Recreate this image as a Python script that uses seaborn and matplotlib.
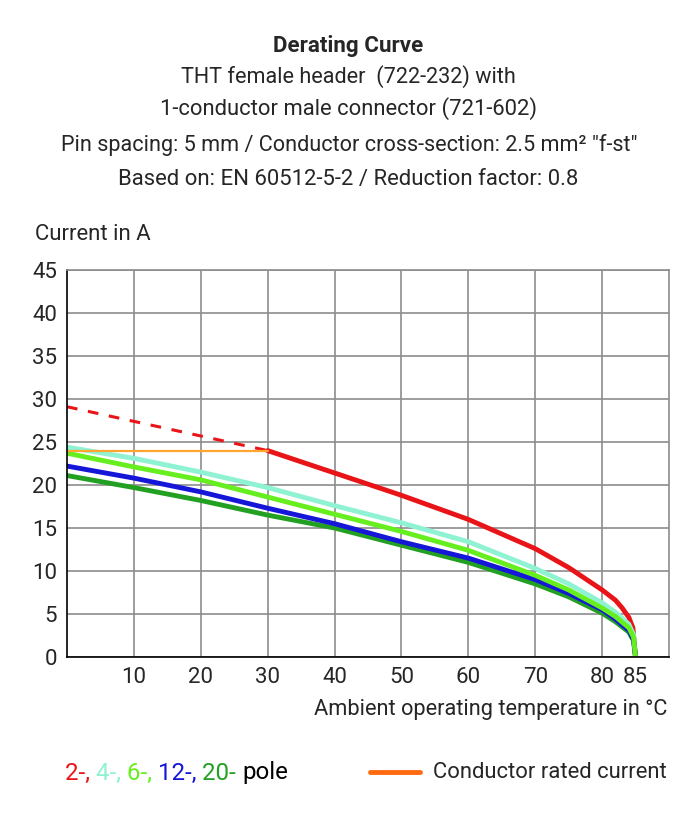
import matplotlib
matplotlib.use("Agg")
import matplotlib.pyplot as plt
from matplotlib.ticker import MultipleLocator
import seaborn as sns
import pandas as pd

# ambient temperature (°C) and current (A)
temps = [0, 10, 20, 30, 40, 50, 60, 70, 75, 80, 82, 84, 84.7, 85]
pole4 = [24.4, 23.1, 21.5, 19.7, 17.6, 15.6, 13.4, 10.3, 8.5, 6.3, 5.2, 3.8, 2.6, 0]
pole6 = [23.7, 22.1, 20.6, 18.6, 16.6, 14.6, 12.4, 9.5, 7.8, 5.7, 4.7, 3.4, 2.3, 0]
pole12 = [22.2, 20.8, 19.2, 17.3, 15.5, 13.4, 11.5, 9.0, 7.4, 5.5, 4.4, 3.1, 2.0, 0]
pole20 = [21.1, 19.7, 18.2, 16.5, 15.0, 13.0, 11.0, 8.5, 7.0, 5.1, 4.1, 2.9, 1.9, 0]

pole2_t = [30, 40, 50, 60, 70, 75, 80, 82, 83, 84, 84.6, 85]
pole2 = [24.0, 21.4, 18.8, 16.0, 12.6, 10.4, 7.8, 6.6, 5.7, 4.6, 3.4, 0]
pole2_dash_t = [0, 30]
pole2_dash = [29.1, 24.0]

rated_t = [0, 30]
rated = [24.0, 24.0]

colors = {"2": "#e81418", "4": "#8ff2d2", "6": "#66ee1e", "12": "#1616d8", "20": "#22a022"}

sns.set_style("white")
plt.rcParams["font.family"] = ["Roboto", "DejaVu Sans"]

W, H = 697, 817
fig = plt.figure(figsize=(W / 100, H / 100), dpi=100)
ax = fig.add_axes([67 / W, 1 - 657 / H, (669 - 67) / W, (657 - 270) / H])

df = pd.DataFrame({
    "temp": temps * 4,
    "current": pole4 + pole20 + pole12 + pole6,
    "pole": ["4"] * len(temps) + ["20"] * len(temps) + ["12"] * len(temps) + ["6"] * len(temps),
})

sns.lineplot(x=pole2_dash_t, y=pole2_dash, ax=ax, color=colors["2"], lw=2.2,
             linestyle=(0, (3.5, 3.5)))
sns.lineplot(x=pole2_t, y=pole2, ax=ax, color=colors["2"], lw=3.5)
sns.lineplot(data=df, x="temp", y="current", hue="pole", palette=colors, ax=ax,
             lw=3.5, legend=False, sort=False)
sns.lineplot(x=rated_t, y=rated, ax=ax, color="#ffa530", lw=1.6)

ax.set_xlim(0, 90)
ax.set_ylim(0, 45)
ax.set_xticks([10, 20, 30, 40, 50, 60, 70, 80, 85])
ax.set_yticks(range(0, 50, 5))
ax.xaxis.set_minor_locator(MultipleLocator(2))
ax.yaxis.set_minor_locator(MultipleLocator(1))
ax.tick_params(axis="both", which="major", labelsize=16, length=4, width=1, color="black", pad=3)
ax.tick_params(axis="both", which="minor", length=2.5, width=1, color="black")
ax.grid(True, which="major", color="#8c8c8c", lw=1.2)
ax.get_xgridlines()[-1].set_visible(False)
ax.set_axisbelow(True)
for s in ["top", "right"]:
    ax.spines[s].set_color("#8c8c8c")
    ax.spines[s].set_linewidth(1.2)
for s in ["left", "bottom"]:
    ax.spines[s].set_color("black")
    ax.spines[s].set_linewidth(1.2)
ax.set_xlabel("")
ax.set_ylabel("")

fig.canvas.draw()
renderer = fig.canvas.get_renderer()


def fit_text(x, y, s, width, ha="left", **kw):
    # place text and scale its size so it spans the given pixel width
    t = fig.text(x / W, 1 - y / H, s, ha=ha, va="center", fontsize=16, **kw)
    w = t.get_window_extent(renderer).width
    t.set_fontsize(16 * width / w)
    return t


fit_text(348, 46, "Derating Curve", 150, ha="center", fontweight="bold")
fit_text(348, 77, "THT female header  (722-232) with", 336, ha="center")
fit_text(348, 109, "1-conductor male connector (721-602)", 378, ha="center")
fit_text(349, 145, "Pin spacing: 5 mm / Conductor cross-section: 2.5 mm² \"f-st\"", 578, ha="center")
fit_text(348, 180, "Based on: EN 60512-5-2 / Reduction factor: 0.8", 460, ha="center")

fit_text(35, 235, "Current in A", 116)
fit_text(667, 710, "Ambient operating temperature in °C", 354, ha="right")
fit_text(433, 773, "Conductor rated current", 234)

# multi-coloured legend text, sized so the whole run spans the reference width
parts = [("2-, ", colors["2"]), ("4-, ", colors["4"]), ("6-, ", colors["6"]),
         ("12-, ", colors["12"]), ("20- ", colors["20"]), ("pole", "black")]
probe = fig.text(0, 0, "".join(p for p, _ in parts), fontsize=16)
fs = 16 * 221 / probe.get_window_extent(renderer).width
probe.remove()
x = 65
for txt, c in parts:
    t = fig.text(x / W, 1 - 773 / H, txt, ha="left", va="center", fontsize=fs, color=c)
    x += t.get_window_extent(renderer).width
fig.add_artist(plt.Line2D([370 / W, 420 / W], [1 - 772 / H] * 2, color="#ff6a10", lw=3.5))

fig.savefig("out.png", dpi=100)
